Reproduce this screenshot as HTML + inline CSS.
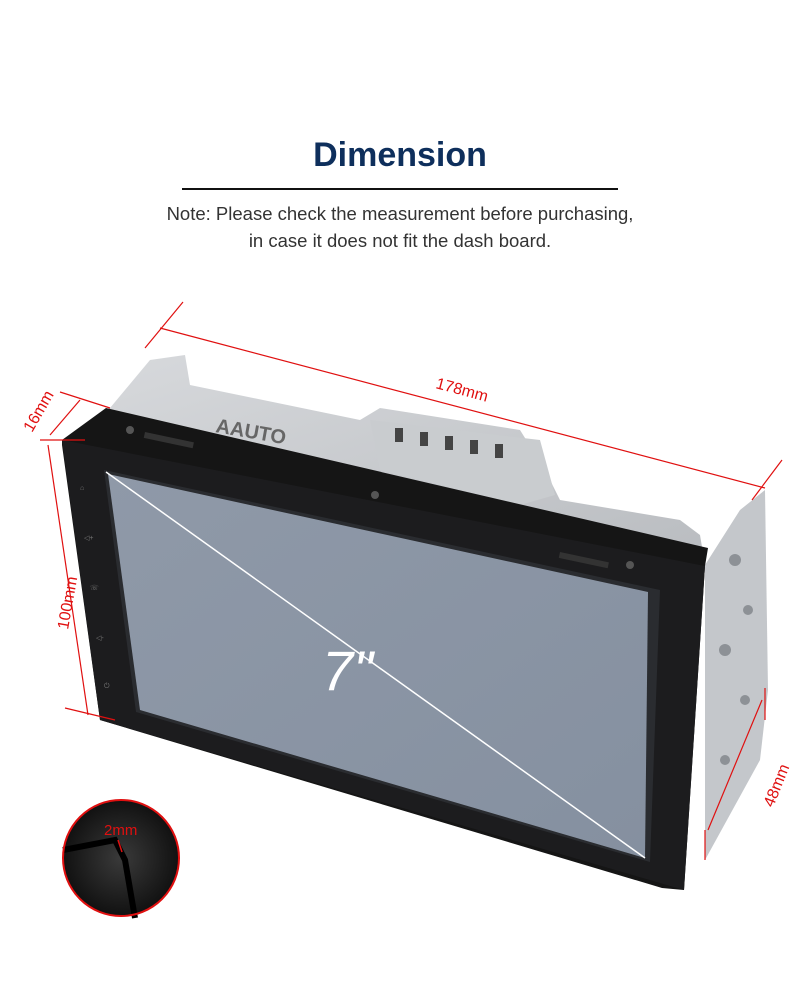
<!DOCTYPE html>
<html><head><meta charset="utf-8"><style>
html,body{margin:0;padding:0;background:#fff;}
body{width:800px;height:1005px;position:relative;overflow:hidden;font-family:"Liberation Sans",sans-serif;}
.t{position:absolute;left:0;width:800px;text-align:center;}
</style></head><body>
<div class="t" style="top:136px;font-size:34px;font-weight:bold;color:#0e2f5c;">Dimension</div>
<div style="position:absolute;left:182px;top:188px;width:436px;height:2px;background:#111;"></div>
<div class="t" style="top:200px;font-size:18.5px;color:#333;line-height:27px;">Note: Please check the measurement before purchasing,<br>in case it does not fit the dash board.</div>
<svg width="800" height="1005" style="position:absolute;left:0;top:0">
<defs>
<linearGradient id="ch" x1="0" y1="0" x2="1" y2="1"><stop offset="0" stop-color="#d8dadd"/><stop offset="1" stop-color="#b9bcc0"/></linearGradient>
<linearGradient id="sc" x1="0" y1="0" x2="1" y2="1"><stop offset="0" stop-color="#8f99a8"/><stop offset="1" stop-color="#8590a0"/></linearGradient>
<radialGradient id="cir"><stop offset="0" stop-color="#3a3a3a"/><stop offset="1" stop-color="#111"/></radialGradient>
</defs>
<polygon points="110,408 150,360 185,355 190,385 360,420 380,408 520,430 545,470 560,500 680,520 700,535 705,565 62,440" fill="url(#ch)"/>
<polygon points="370,420 540,440 555,495 520,505 380,470" fill="#c9cccf"/>
<g fill="#444"><rect x="395" y="428" width="8" height="14"/><rect x="420" y="432" width="8" height="14"/><rect x="445" y="436" width="8" height="14"/><rect x="470" y="440" width="8" height="14"/><rect x="495" y="444" width="8" height="14"/></g>
<text x="215" y="432" font-size="20" font-weight="bold" fill="#666" transform="rotate(10 215 432)" font-family="Liberation Sans,sans-serif">AAUTO</text>
<polygon points="705,565 740,510 765,490 768,690 760,760 705,860" fill="#c4c7cb"/>
<g fill="#8d9196"><circle cx="735" cy="560" r="6"/><circle cx="748" cy="610" r="5"/><circle cx="725" cy="650" r="6"/><circle cx="745" cy="700" r="5"/><circle cx="725" cy="760" r="5"/></g>
<polygon points="62,440 106,408 708,548 705,566 684,890 662,888 100,720 62,445" fill="#151515"/>
<polygon points="62,440 705,566 684,890 100,720" fill="#1c1c1e"/>
<polygon points="104,470 660,590 650,862 136,712" fill="#2a2c30"/>
<polygon points="108,474 648,592 645,858 140,710" fill="url(#sc)"/>
<line x1="106" y1="472" x2="645" y2="858" stroke="#fff" stroke-width="1.5"/>
<text x="322" y="690" font-size="56" fill="#fff" font-style="italic" font-family="Liberation Sans,sans-serif">7"</text>
<g fill="#777" font-size="7"><text x="80" y="490">⌂</text><text x="84" y="540">◁+</text><text x="90" y="590">☏</text><text x="96" y="640">◁-</text><text x="104" y="688">⏻</text></g>
<g fill="#333"><rect x="145" y="432" width="50" height="6" transform="rotate(12 145 432)"/><rect x="560" y="552" width="50" height="6" transform="rotate(12 560 552)"/></g>
<circle cx="130" cy="430" r="4" fill="#555"/><circle cx="375" cy="495" r="4" fill="#555"/><circle cx="630" cy="565" r="4" fill="#555"/>
<g stroke="#e01010" stroke-width="1.2" fill="none">
<line x1="160" y1="328" x2="765" y2="488"/>
<line x1="183" y1="302" x2="145" y2="348"/>
<line x1="782" y1="460" x2="752" y2="500"/>
<line x1="48" y1="445" x2="88" y2="715"/>
<line x1="40" y1="440" x2="85" y2="440"/>
<line x1="65" y1="708" x2="115" y2="720"/>
<line x1="50" y1="435" x2="80" y2="400"/>
<line x1="60" y1="392" x2="110" y2="408"/>
<line x1="762" y1="700" x2="708" y2="830"/>
<line x1="765" y1="688" x2="765" y2="720"/>
<line x1="705" y1="830" x2="705" y2="860"/>
</g>
<g fill="#e01010" font-family="Liberation Sans,sans-serif" font-size="16">
<text x="435" y="388" transform="rotate(15 435 388)">178mm</text>
<text x="68" y="630" transform="rotate(-80 68 630)">100mm</text>
<text x="32" y="433" transform="rotate(-60 32 433)">16mm</text>
<text x="773" y="808" transform="rotate(-68 773 808)">48mm</text>
</g>
<circle cx="121" cy="858" r="58" fill="url(#cir)"/>
<path d="M63,850 L115,840 L125,860 L135,918" stroke="#000" stroke-width="6" fill="none"/>
<circle cx="121" cy="858" r="58" fill="none" stroke="#e01010" stroke-width="2"/>
<line x1="118" y1="840" x2="122" y2="852" stroke="#e01010" stroke-width="1.5"/>
<text x="104" y="835" fill="#e01010" font-size="15" font-family="Liberation Sans,sans-serif">2mm</text>
</svg>
</body></html>
